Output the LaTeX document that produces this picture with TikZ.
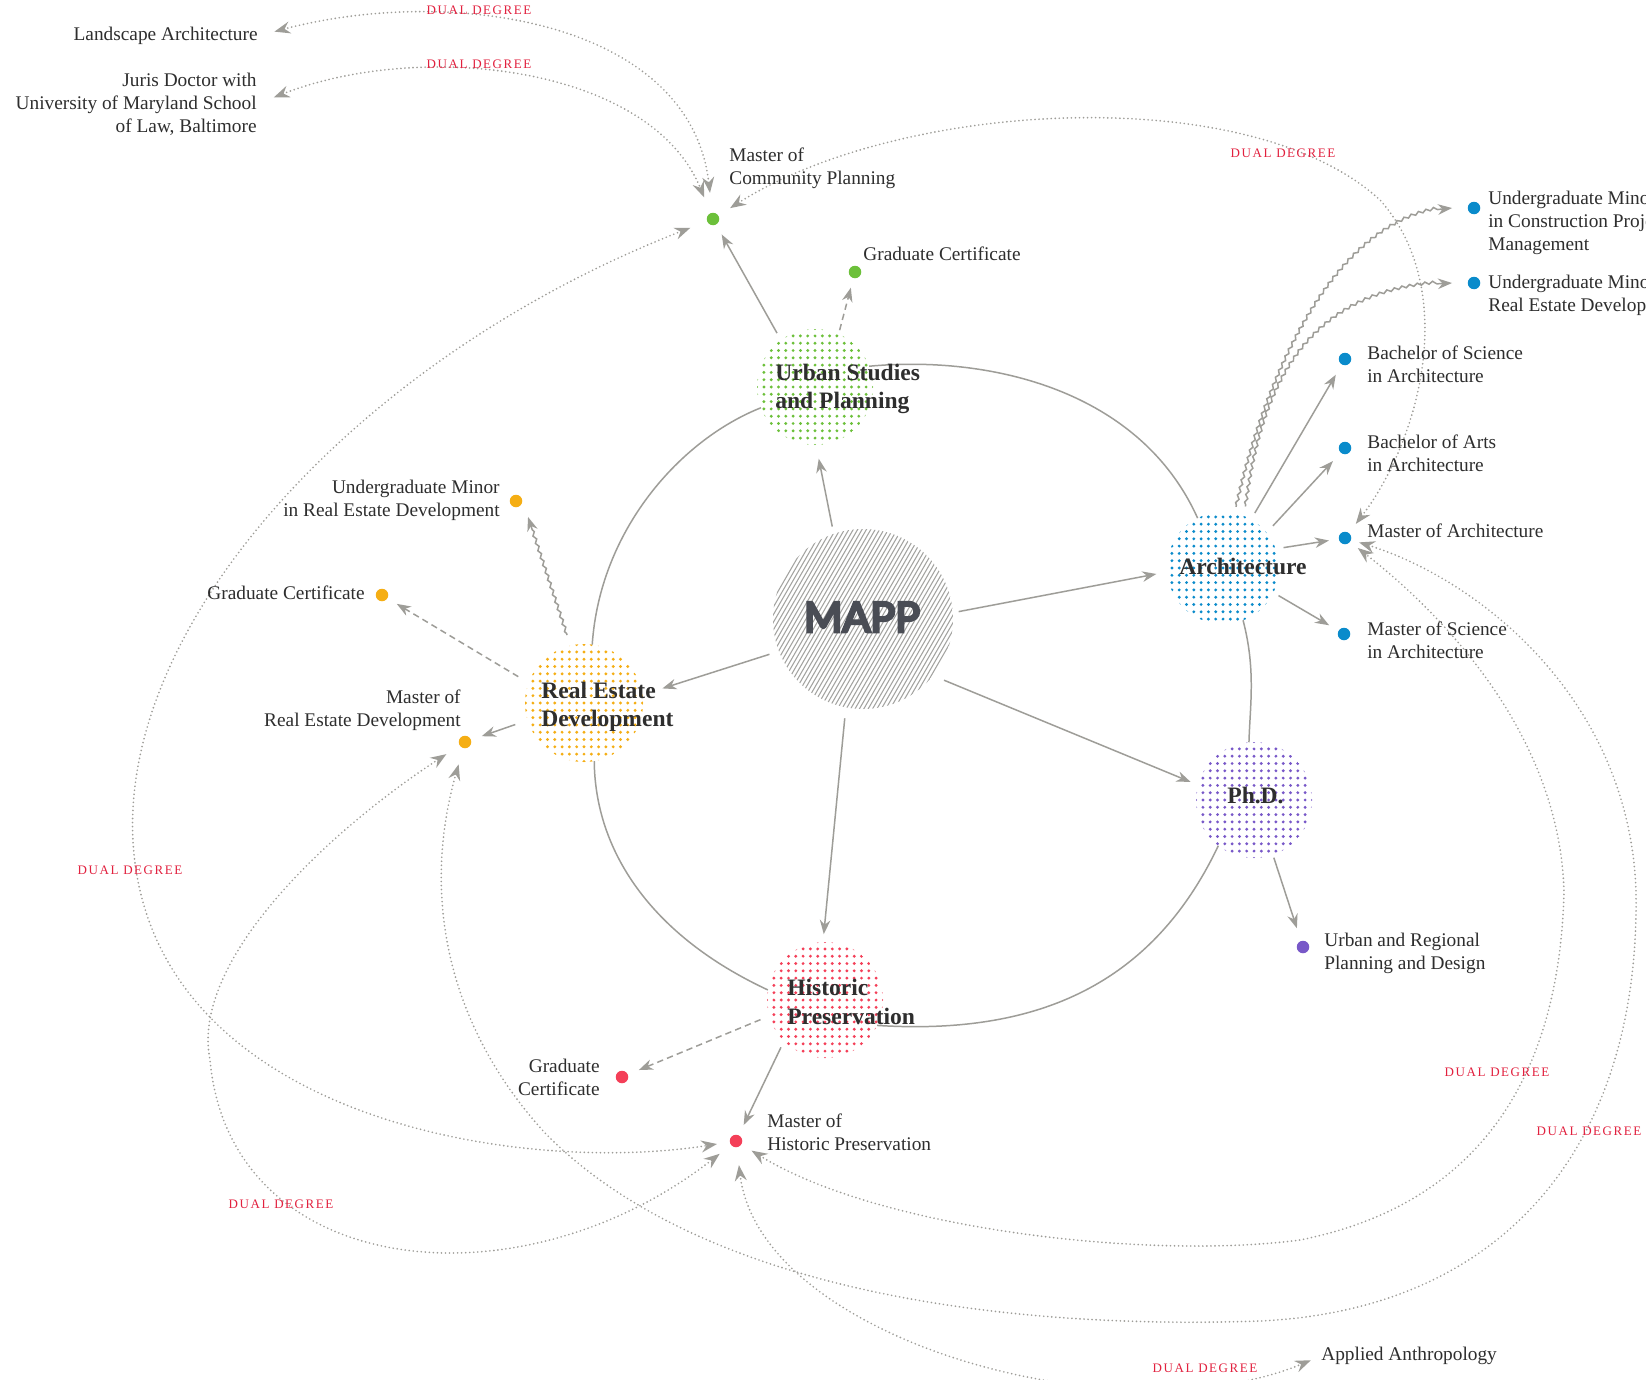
\documentclass[tikz,border=0pt]{standalone}
\usepackage{fontspec}
\setmainfont{Liberation Serif}
\newfontfamily\ddfont{Liberation Serif}[LetterSpace=12]
\newfontfamily\mappfont{Lato}[FakeBold=7]
\usetikzlibrary{arrows.meta,decorations.pathmorphing,calc}
\definecolor{cgreen}{HTML}{6CC03A}
\definecolor{cblue}{HTML}{0A8BCB}
\definecolor{cyellow}{HTML}{F5AE14}
\definecolor{cpurple}{HTML}{7858C8}
\definecolor{cred}{HTML}{F43F58}
\definecolor{ddred}{HTML}{E2213F}
\definecolor{lgray}{HTML}{9E9D98}
\definecolor{textc}{HTML}{2E2E2E}
\definecolor{mappc}{HTML}{4A4D55}
\definecolor{stripec}{HTML}{A3A3A0}
\pgfdeclarelayer{bg}
\pgfsetlayers{bg,main}
\newcommand\mygrid[4]{\begin{scope}\clip (#1,#2) circle (#3);\foreach \i in {-9,...,9}{\foreach \j in {-9,...,9}{\fill[#4] ({#1+\i*7.3},{#2+\j*7.3}) circle (1.6);}}\end{scope}}
\begin{document}
\begin{tikzpicture}[x=0.02cm,y=-0.02cm,
  >={Stealth[length=8pt,width=6pt,inset=2.6pt]},
  hub/.style={circle, inner sep=0pt, outer sep=0pt},
  dotn/.style={circle, inner sep=0pt, outer sep=0pt, minimum size=0.25cm},
  lab/.style={inner sep=0pt, text=textc, font=\fontsize{11}{13.1}\selectfont},
  hubtext/.style={inner sep=0pt, text=textc, align=left, font=\bfseries\fontsize{13.4}{16.2}\selectfont},
  ddl/.style={inner sep=0pt, text=ddred, font=\ddfont\fontsize{7.4}{8}\selectfont},
  ln/.style={draw=lgray, line width=0.85pt},
  arr/.style={ln, ->},
  dsh/.style={ln, ->, dash pattern=on 3.6pt off 2.4pt},
  wavy/.style={ln, ->, decorate, decoration={snake, amplitude=0.75pt, segment length=4.4pt, pre length=1pt, post length=7pt}},
  dd/.style={draw=lgray, line width=1.05pt, line cap=round, dash pattern=on 0pt off 2.3pt, {Stealth[length=9pt,width=6.8pt,inset=3pt]}-{Stealth[length=9pt,width=6.8pt,inset=3pt]}},
  ring/.style={ln}]
\useasboundingbox (0,0) rectangle (1646,1379);
\clip (0,0) rectangle (1646,1379);

\begin{pgfonlayer}{bg}
\fill[white] (0,0) rectangle (1646,1379);
\mygrid{815}{387}{58}{cgreen}
\mygrid{1223}{568}{56}{cblue}
\mygrid{584}{703}{59}{cyellow}
\mygrid{1254}{800}{58}{cpurple}
\mygrid{825}{1000}{58}{cred}
\begin{scope}
\clip (863,619) circle (90);
\begin{scope}[shift={(863,619)}, rotate=-30]
\foreach \k in {-26,...,26}{\draw[stripec, line width=0.6pt] (\k*3.8,-100) -- (\k*3.8,100);}
\end{scope}
\end{scope}
\end{pgfonlayer}

% hubs
\node[hub, minimum size=3.6cm] (mapp) at (863,619) {};
\node[hub, minimum size=2.32cm] (urban) at (815,387) {};
\node[hub, minimum size=2.24cm] (arch) at (1223,568) {};
\node[hub, minimum size=2.36cm] (red) at (584,703) {};
\node[hub, minimum size=2.32cm] (phd) at (1254,800) {};
\node[hub, minimum size=2.32cm] (hp) at (825,1000) {};

\node[font=\mappfont\fontsize{23.5}{23.5}\selectfont, text=mappc, inner sep=0pt] (mappT) at (862,617) {MAPP};
\node[hubtext, anchor=west] (urbanT) at (775,389) {Urban Studies\\and Planning};
\node[hubtext, anchor=west] (archT) at (1179,566) {Architecture};
\node[hubtext, anchor=west] (redT) at (541,707) {Real Estate\\Development};
\node[hubtext, anchor=west] (phdT) at (1227,795) {Ph.D.};
\node[hubtext, anchor=west] (hpT) at (787,1002) {Historic\\Preservation};

% dots
\node[dotn, fill=cgreen] (mcp) at (713,219) {};
\node[dotn, fill=cgreen] (ugc) at (855,272) {};
\node[dotn, fill=cblue] (ugmc) at (1474,208) {};
\node[dotn, fill=cblue] (ugmr) at (1474,283) {};
\node[dotn, fill=cblue] (bs) at (1345,359) {};
\node[dotn, fill=cblue] (ba) at (1345,448) {};
\node[dotn, fill=cblue] (march) at (1345,538) {};
\node[dotn, fill=cblue] (ms) at (1344,634) {};
\node[dotn, fill=cpurple] (urd) at (1303,947) {};
\node[dotn, fill=cyellow] (ugmred) at (516,501) {};
\node[dotn, fill=cyellow] (gcred) at (382,595) {};
\node[dotn, fill=cyellow] (mred) at (465,742) {};
\node[dotn, fill=cred] (gchp) at (622,1077) {};
\node[dotn, fill=cred] (mhp) at (736,1141) {};

% labels
\node[lab, anchor=west, align=left] (mcpL) at (729,168) {Master of\\Community Planning};
\node[lab, anchor=west] (ugcL) at (863,254) {Graduate Certificate};
\node[lab, anchor=east] (land) at (258,36) {Landscape Architecture};
\node[lab, anchor=east, align=right] (juris) at (257,104) {Juris Doctor with\\University of Maryland School\\of Law, Baltimore};
\node[lab, anchor=west, align=left] (ugmcL) at (1488,223) {Undergraduate Minor\\in Construction Project\\Management};
\node[lab, anchor=west, align=left] (ugmrL) at (1488,295) {Undergraduate Minor in\\Real Estate Development};
\node[lab, anchor=west, align=left] (bsL) at (1367,364.5) {Bachelor of Science\\in Architecture};
\node[lab, anchor=west, align=left] (baL) at (1367,453.5) {Bachelor of Arts\\in Architecture};
\node[lab, anchor=west] (marchL) at (1367,531) {Master of Architecture};
\node[lab, anchor=west, align=left] (msL) at (1367,640.5) {Master of Science\\in Architecture};
\node[lab, anchor=west, align=left] (urdL) at (1324,953.5) {Urban and Regional\\Planning and Design};
\node[lab, anchor=east, align=right] (ugmredL) at (500,500.5) {Undergraduate Minor\\in Real Estate Development};
\node[lab, anchor=east] (gcredL) at (365,593) {Graduate Certificate};
\node[lab, anchor=east, align=right] (mredL) at (461,710.5) {Master of\\Real Estate Development};
\node[lab, anchor=east, align=right] (gchpL) at (600,1077) {Graduate\\Certificate};
\node[lab, anchor=west, align=left] (mhpL) at (767,1132.5) {Master of\\Historic Preservation};
\node[lab, anchor=west] (applied) at (1321,1356) {Applied Anthropology};

% dual degree labels
\node[ddl] (dd1) at (479,10) {DUAL DEGREE};
\node[ddl] (dd2) at (479,64) {DUAL DEGREE};
\node[ddl] (dd3) at (1283,153) {DUAL DEGREE};
\node[ddl] (dd4) at (130,870) {DUAL DEGREE};
\node[ddl] (dd5) at (1497,1072) {DUAL DEGREE};
\node[ddl] (dd6) at (1589,1131) {DUAL DEGREE};
\node[ddl] (dd7) at (281,1204) {DUAL DEGREE};
\node[ddl] (dd8) at (1205,1368) {DUAL DEGREE};

\begin{pgfonlayer}{bg}
% ring
\draw[ring] (urban.21) .. controls (990,355) and (1140,390) .. (arch.117);
\draw[ring] (arch.-69) .. controls (1256,670) and (1250,705) .. (phd.95);
\draw[ring] (phd.-128) .. controls (1150,990) and (1030,1035) .. (hp.-26);
\draw[ring] (hp.170) .. controls (650,935) and (595,850) .. (red.-80);
\draw[ring] (red.82) .. controls (600,530) and (680,440) .. (urban.-159);
% from MAPP
\draw[arr, shorten <=0.15cm, shorten >=0.28cm] (mapp.109) -- (urban.-89);
\draw[arr, shorten <=0.12cm, shorten >=0.22cm] (mapp.4) -- (arch.184);
\draw[arr, shorten <=0.2cm, shorten >=0.42cm] (mapp.201) -- (red.8);
\draw[arr, shorten <=0.24cm, shorten >=0.16cm] (mapp.-39) -- (phd.165);
\draw[arr, shorten <=0.22cm, shorten >=0.16cm] (mapp.-101) -- (hp.92);
% hubs to programs
\draw[arr, shorten <=0.16cm, shorten >=0.23cm] (urban.126) -- (mcp);
\draw[dsh, shorten <=0.08cm, shorten >=0.2cm] (urban.66) -- (ugc);
\draw[arr, shorten <=0.15cm, shorten >=0.24cm] (arch.60) -- (bs);
\draw[arr, shorten <=0.19cm, shorten >=0.23cm] (arch.39) -- (ba);
\draw[arr, shorten <=0.16cm, shorten >=0.2cm] (arch.20) -- (march);
\draw[arr, shorten <=0.12cm, shorten >=0.22cm] (arch.-26) -- (ms);
\draw[arr, shorten <=0.06cm, shorten >=0.27cm] (phd.-71) -- (urd);
\draw[dsh, shorten <=0.24cm, shorten >=0.22cm] (red.160) -- (gcred);
\draw[arr, shorten <=0.26cm, shorten >=0.23cm] (red.-163) -- (mred);
\draw[dsh, shorten <=0.19cm, shorten >=0.24cm] (hp.-164) -- (gchp);
\draw[arr, shorten <=0.14cm, shorten >=0.23cm] (hp.-135) -- (mhp);
% wavy
\draw[wavy] ($(red.104)+(104:0.22cm)$) -- ($(ugmred)+(-53:0.4cm)$);
\draw[wavy] ($(arch.78)+(78:0.13cm)$) .. controls (1262,390) and (1330,215) .. ($(ugmc)+(-0.44cm,0)$);
\draw[wavy] ($(arch.70)+(70:0.19cm)$) .. controls (1262,380) and (1310,288) .. ($(ugmr)+(-0.44cm,0)$);
% dual degree curves
\draw[dd, shorten <=0.34cm, shorten >=0.4cm] (land.east) .. controls (450,-15) and (690,20) .. (mcp);
\draw[dd, shorten <=0.36cm, shorten >=0.34cm] (juris.east) .. controls (420,40) and (650,65) .. (mcp);
\draw[dd, shorten <=0.28cm, shorten >=0.23cm] (mcp) .. controls (900,100) and (1250,80) .. (1380,200) .. controls (1460,290) and (1420,440) .. (march);
\draw[dd, shorten <=0.36cm, shorten >=0.26cm] (mcp) .. controls (350,360) and (100,640) .. (136,870) .. controls (175,1120) and (520,1175) .. (mhp);
\draw[dd, shorten <=0.32cm, shorten >=0.29cm] (mred) .. controls (330,830) and (190,960) .. (210,1060) .. controls (230,1280) and (520,1310) .. (mhp);
\draw[dd, shorten <=0.34cm, shorten >=0.17cm] (mred) .. controls (420,900) and (450,1030) .. (546,1134) .. controls (700,1290) and (1000,1330) .. (1260,1321) .. controls (1500,1310) and (1640,1150) .. (1636,892) .. controls (1630,700) and (1480,580) .. (march);
\draw[dd, shorten <=0.24cm, shorten >=0.2cm] (mhp) .. controls (880,1230) and (1150,1260) .. (1300,1240) .. controls (1500,1200) and (1560,1050) .. (1564,892) .. controls (1560,740) and (1450,620) .. (march);
\draw[dd, shorten <=0.36cm, shorten >=0.22cm] (mhp) .. controls (760,1340) and (1120,1440) .. (applied.west);
\end{pgfonlayer}
\end{tikzpicture}
\end{document}
